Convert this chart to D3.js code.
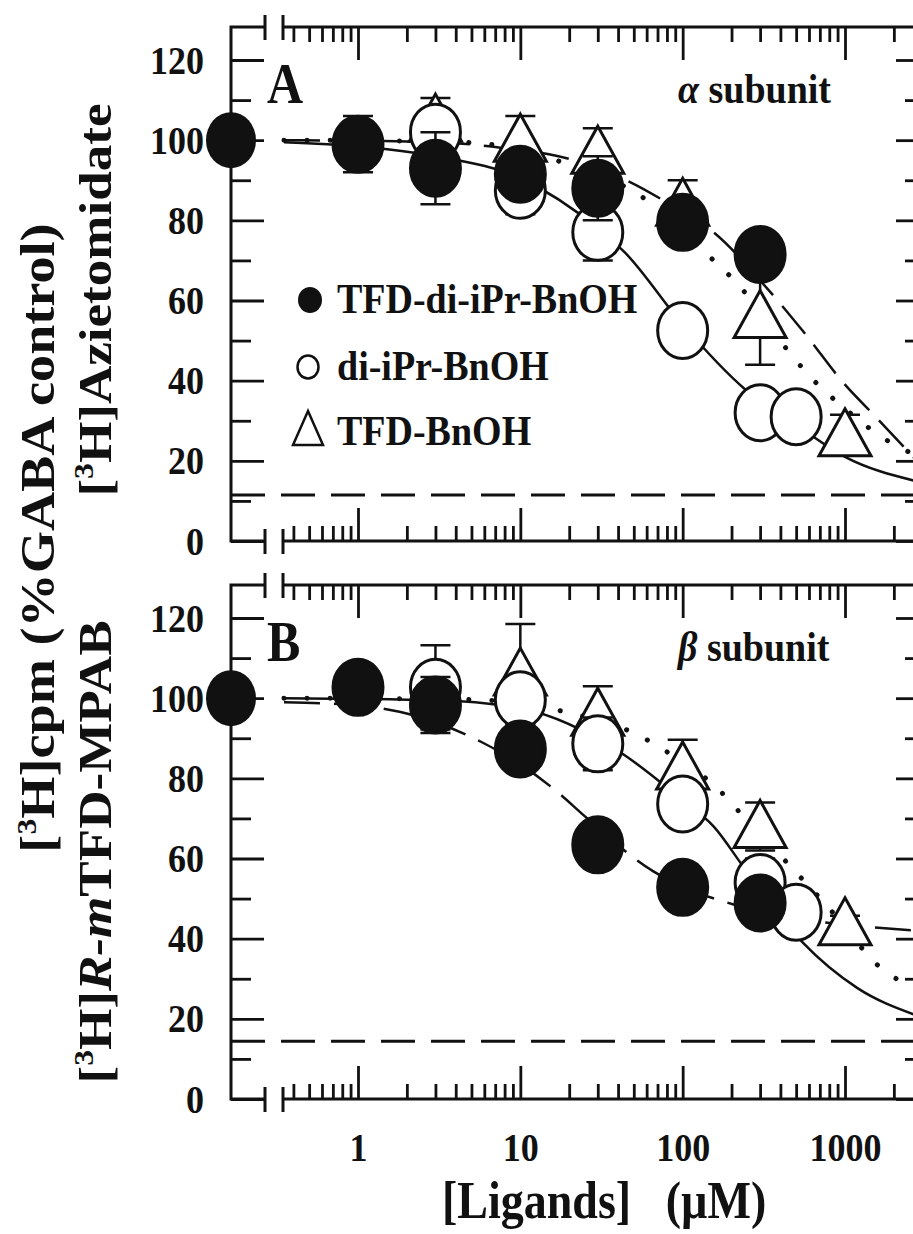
<!DOCTYPE html>
<html>
<head>
<meta charset="utf-8">
<title>Inhibition of photolabeling by ligands</title>
<script src="https://cdn.jsdelivr.net/npm/d3@7/dist/d3.min.js"></script>
<style>
  body { margin: 0; background: #fff; }
  svg text { font-family: "Liberation Serif", "Times New Roman", serif; font-weight: bold; fill: #111; }
</style>
</head>
<body>
<svg id="chart" width="913" height="1234"></svg>
<script>
// values: concentration in uM, response in % of GABA control
const xMajorTicks = [1, 10, 100, 1000];
const xTickLabels = ["1", "10", "100", "1000"];
const yMajorTicks = [0, 20, 40, 60, 80, 100, 120];
const yMinorTicks = [10, 30, 50, 70, 90, 110];
const legendLabels = ["TFD-di-iPr-BnOH", "di-iPr-BnOH", "TFD-BnOH"];
const controlValue = 100;

// panel A - alpha subunit ([3H]azietomidate)
const aFilledConc = [1, 3, 10, 30, 100, 300];
const aFilledVal = [99, 93, 91.5, 88, 79.5, 71.5];
const aFilledErr = [7, 9, 4, 8, 3, 3];
const aOpenConc = [3, 10, 30, 100, 300, 500];
const aOpenVal = [102, 87.5, 77, 52.5, 32, 31];
const aOpenErr = [3, 6, 7, 3, 3, 3];
const aTriConc = [3, 10, 30, 100, 300, 1000];
const aTriVal = [105, 100, 97, 84, 56, 26.5];
const aTriErr = [5.5, 6, 6, 6, 12, 5];
const aFitOpenConc = [0.35, 1, 3, 10, 30, 44, 100, 240, 500, 1000, 2700];
const aFitOpenVal = [99.5, 98.5, 96, 90.5, 78, 72, 54, 38, 29, 21, 15];
const aFitFilledConc = [0.35, 3, 10, 15, 45, 100, 155, 300, 560, 1000, 1500, 2700];
const aFitFilledVal = [100, 99.5, 97.5, 96.5, 90, 82, 77, 65, 52, 39, 31.5, 20.5];
const aFitTriConc = [0.35, 3, 10, 18, 53, 100, 155, 220, 380, 610, 1000, 1900, 2700];
const aFitTriVal = [100, 99.7, 98, 94.5, 86.5, 78, 70, 64, 51, 41, 33, 24.6, 21.5];
const aNonspecific = 11.5;

// panel B - beta subunit ([3H]R-mTFD-MPAB)
const bFilledConc = [1, 3, 10, 30, 100, 300];
const bFilledVal = [102.7, 98.3, 87.3, 63.4, 52.8, 48.9];
const bFilledErr = [3, 7, 4, 3, 3, 5];
const bOpenConc = [3, 10, 30, 100, 300, 500];
const bOpenVal = [102.7, 99.6, 88.6, 73.6, 54, 46.6];
const bOpenErr = [10.5, 4, 6.6, 4, 6, 3];
const bTriConc = [10, 30, 100, 300, 1000];
const bTriVal = [106, 96, 82.6, 68, 43.7];
const bTriErr = [12.5, 7, 7, 6, 2];
const bFitOpenConc = [0.35, 3, 10, 43, 100, 155, 240, 550, 1200, 2700];
const bFitOpenVal = [100, 99.5, 97.5, 86, 74.5, 68, 57.6, 39, 27.6, 21];
const bFitFilledConc = [0.35, 1, 1.8, 3, 5.8, 10, 16.8, 25, 66, 100, 211, 500, 1000, 2700];
const bFitFilledVal = [99, 98.2, 96.6, 94, 89, 83.5, 76.7, 70.5, 56.8, 53, 48.4, 45, 43.5, 42];
const bFitTriConc = [0.35, 3, 10, 17, 53, 100, 164, 211, 450, 1000, 1500, 1950, 2700];
const bFitTriVal = [100, 99.8, 99, 97, 90.8, 84, 77.5, 72.7, 58.5, 43, 34.3, 30.7, 27.5];
const bNonspecific = 14.4;

// the original figure is stretched vertically, so text is too
const STRETCH = 1.13;
const ink = "#111";
const xLeft = 231, xRight = 916, xBreak1 = 265, xBreak2 = 283;

const x = d3.scaleLog().domain([1, 1000]).range([358, 845]);
const xMinorTicks = [];
[0.1, 1, 10, 100, 1000].forEach((d) => {
  for (let k = 2; k <= 9; k++) {
    if (k * d >= 0.4 && k * d <= 2000) xMinorTicks.push(k * d);
  }
});

const panels = [
  {
    label: "A", subunit: "α", top: 27, zeroY: 541, y120: 60, nonspecific: aNonspecific,
    filled: [aFilledConc, aFilledVal, aFilledErr],
    open: [aOpenConc, aOpenVal, aOpenErr],
    tri: [aTriConc, aTriVal, aTriErr],
    fitOpen: [aFitOpenConc, aFitOpenVal],
    fitFilled: [aFitFilledConc, aFitFilledVal],
    fitTri: [aFitTriConc, aFitTriVal],
    xLabels: false, legend: true
  },
  {
    label: "B", subunit: "β", top: 585, zeroY: 1099, y120: 618, nonspecific: bNonspecific,
    filled: [bFilledConc, bFilledVal, bFilledErr],
    open: [bOpenConc, bOpenVal, bOpenErr],
    tri: [bTriConc, bTriVal, bTriErr],
    fitOpen: [bFitOpenConc, bFitOpenVal],
    fitFilled: [bFitFilledConc, bFitFilledVal],
    fitTri: [bFitTriConc, bFitTriVal],
    xLabels: true, legend: false
  }
];

const svg = d3.select("#chart");

function stretched(sel, px, py) {
  return sel.attr("transform", `translate(${px},${py}) scale(1,${STRETCH})`);
}

function trianglePath(cx, cy, half, up, down) {
  return `M${cx},${cy - up}L${cx + half},${cy + down}L${cx - half},${cy + down}Z`;
}

function styleAxis(sel) {
  sel.select(".domain").remove();
  sel.selectAll(".tick line").attr("stroke", ink).attr("stroke-width", 2.8);
  sel.selectAll(".tick text")
    .style("font-size", "36px")
    .attr("transform", `scale(1,${STRETCH})`);
}

function drawAxes(g, p, y) {
  const blank = () => "";
  // box with a break in the x axis
  g.append("path")
    .attr("d", `M${xBreak1},${p.top}H${xLeft}V${p.zeroY}H${xBreak1}` +
               `M${xBreak2},${p.top}H${xRight}V${p.zeroY}H${xBreak2}`)
    .attr("fill", "none").attr("stroke", ink).attr("stroke-width", 3);
  [xBreak1, xBreak2].forEach((bx) => {
    [p.top, p.zeroY].forEach((by) => {
      g.append("line")
        .attr("x1", bx).attr("x2", bx)
        .attr("y1", by - 12).attr("y2", by + 13)
        .attr("stroke", ink).attr("stroke-width", 3);
    });
  });

  g.append("g").attr("transform", `translate(0,${p.zeroY})`)
    .call(d3.axisBottom(x).tickValues(xMajorTicks).tickSize(-33).tickPadding(29)
      .tickFormat(p.xLabels ? (d, i) => xTickLabels[i] : blank))
    .call(styleAxis);
  g.append("g").attr("transform", `translate(0,${p.zeroY})`)
    .call(d3.axisBottom(x).tickValues(xMinorTicks).tickSize(-15).tickFormat(blank))
    .call(styleAxis);
  g.append("g").attr("transform", `translate(0,${p.top})`)
    .call(d3.axisTop(x).tickValues(xMajorTicks).tickSize(-33).tickFormat(blank))
    .call(styleAxis);
  g.append("g").attr("transform", `translate(0,${p.top})`)
    .call(d3.axisTop(x).tickValues(xMinorTicks).tickSize(-15).tickFormat(blank))
    .call(styleAxis);

  g.append("g").attr("transform", `translate(${xLeft},0)`)
    .call(d3.axisLeft(y).tickValues(yMajorTicks).tickSize(-33).tickPadding(27))
    .call(styleAxis);
  g.append("g").attr("transform", `translate(${xLeft},0)`)
    .call(d3.axisLeft(y).tickValues(yMinorTicks).tickSize(-20).tickFormat(blank))
    .call(styleAxis);
  g.append("g").attr("transform", `translate(${xRight},0)`)
    .call(d3.axisRight(y).tickValues(yMajorTicks).tickSize(-20).tickFormat(blank))
    .call(styleAxis);
  g.append("g").attr("transform", `translate(${xRight},0)`)
    .call(d3.axisRight(y).tickValues(yMinorTicks).tickSize(-11).tickFormat(blank))
    .call(styleAxis);
}

function drawSeries(g, y, series, kind) {
  const pts = d3.zip(series[0], series[1], series[2]);
  const capW = 15;
  const s = g.append("g");
  s.selectAll("path.err")
    .data(pts)
    .join("path")
    .attr("class", "err")
    .attr("d", (d) => {
      const cx = x(d[0]), hi = y(d[1] + d[2]), lo = y(d[1] - d[2]);
      return `M${cx},${lo}V${hi}M${cx - capW},${hi}h${2 * capW}M${cx - capW},${lo}h${2 * capW}`;
    })
    .attr("fill", "none").attr("stroke", ink).attr("stroke-width", 2.5);

  if (kind === "tri") {
    s.selectAll("path.mark")
      .data(pts)
      .join("path")
      .attr("class", "mark")
      .attr("d", (d) => trianglePath(x(d[0]), y(d[1]), 26, 26, 21))
      .attr("fill", "#fff").attr("stroke", ink).attr("stroke-width", 3)
      .attr("stroke-linejoin", "miter");
  } else {
    s.selectAll("ellipse.mark")
      .data(pts)
      .join("ellipse")
      .attr("class", "mark")
      .attr("cx", (d) => x(d[0]))
      .attr("cy", (d) => y(d[1]))
      .attr("rx", 25).attr("ry", 28)
      .attr("fill", kind === "filled" ? ink : "#fff")
      .attr("stroke", ink).attr("stroke-width", 3);
  }
}

function drawPanel(p) {
  const y = d3.scaleLinear().domain([0, 120]).range([p.zeroY, p.y120]);
  const g = svg.append("g");

  drawAxes(g, p, y);

  // non-specific binding level
  g.append("line")
    .attr("x1", xLeft).attr("x2", xRight)
    .attr("y1", y(p.nonspecific)).attr("y2", y(p.nonspecific))
    .attr("stroke", ink).attr("stroke-width", 3)
    .attr("stroke-dasharray", "34,16");

  const line = d3.line()
    .x((d) => x(d[0]))
    .y((d) => y(d[1]))
    .curve(d3.curveMonotoneX);

  g.append("path").datum(d3.zip(...p.fitOpen))
    .attr("d", line).attr("fill", "none")
    .attr("stroke", ink).attr("stroke-width", 2.5);
  g.append("path").datum(d3.zip(...p.fitFilled))
    .attr("d", line).attr("fill", "none")
    .attr("stroke", ink).attr("stroke-width", 2.5)
    .attr("stroke-dasharray", "36,14");
  g.append("path").datum(d3.zip(...p.fitTri))
    .attr("d", line).attr("fill", "none")
    .attr("stroke", ink).attr("stroke-width", 5)
    .attr("stroke-linecap", "round")
    .attr("stroke-dasharray", "0.1,23");

  drawSeries(g, y, p.tri, "tri");
  drawSeries(g, y, p.open, "open");
  drawSeries(g, y, p.filled, "filled");

  // control (no ligand) sits on the y axis
  g.append("ellipse")
    .attr("cx", xLeft).attr("cy", y(controlValue))
    .attr("rx", 25).attr("ry", 28)
    .attr("fill", ink);

  stretched(g.append("text"), 267, p.top + 76)
    .style("font-size", "50px")
    .text(p.label);

  const sub = stretched(g.append("text"), 678, p.top + 76).style("font-size", "38px");
  sub.append("tspan").style("font-style", "italic").text(p.subunit);
  sub.append("tspan").text(" subunit");

  if (p.legend) {
    const rows = [300, 367, 431];
    const base = [313, 380, 445];
    g.append("ellipse").attr("cx", 310).attr("cy", rows[0]).attr("rx", 12).attr("ry", 13).attr("fill", ink);
    g.append("ellipse").attr("cx", 308).attr("cy", rows[1]).attr("rx", 10.5).attr("ry", 11.5)
      .attr("fill", "#fff").attr("stroke", ink).attr("stroke-width", 2.5);
    g.append("path").attr("d", trianglePath(308, rows[2], 15, 20, 14))
      .attr("fill", "#fff").attr("stroke", ink).attr("stroke-width", 2.5);
    legendLabels.forEach((lab, i) => {
      stretched(g.append("text"), 337, base[i]).style("font-size", "38px").text(lab);
    });
  }
}

panels.forEach(drawPanel);

// axis titles
const outer = svg.append("text")
  .attr("transform", `translate(54,538) scale(1,${STRETCH}) rotate(-90)`)
  .attr("text-anchor", "middle")
  .style("font-size", "48px");
outer.append("tspan").text("[");
outer.append("tspan").style("font-size", "28px").attr("dy", -18).text("3");
outer.append("tspan").attr("dy", 18).text("H]cpm (%GABA control)");

const titleA = svg.append("text")
  .attr("transform", `translate(111,300) scale(1,${STRETCH}) rotate(-90)`)
  .attr("text-anchor", "middle")
  .style("font-size", "47px");
titleA.append("tspan").text("[");
titleA.append("tspan").style("font-size", "28px").attr("dy", -18).text("3");
titleA.append("tspan").attr("dy", 18).text("H]Azietomidate");

const titleB = svg.append("text")
  .attr("transform", `translate(111,852) scale(1,${STRETCH}) rotate(-90)`)
  .attr("text-anchor", "middle")
  .style("font-size", "47px");
titleB.append("tspan").text("[");
titleB.append("tspan").style("font-size", "28px").attr("dy", -18).text("3");
titleB.append("tspan").attr("dy", 18).text("H]");
titleB.append("tspan").style("font-style", "italic").text("R-m");
titleB.append("tspan").text("TFD-MPAB");

stretched(svg.append("text"), 442, 1218)
  .attr("xml:space", "preserve")
  .style("white-space", "pre")
  .style("font-size", "46px")
  .text("[Ligands]   (µM)");
</script>
</body>
</html>
